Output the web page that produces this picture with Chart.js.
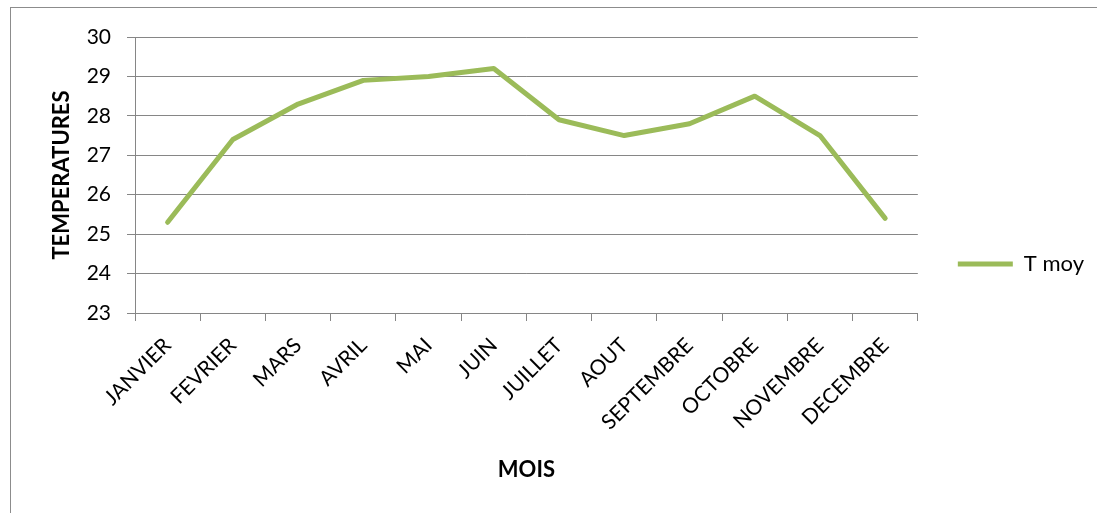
<!DOCTYPE html>
<html>
<head>
<meta charset="utf-8">
<script src="https://cdn.jsdelivr.net/npm/chart.js@4"></script>
<style>
    body { margin: 0; overflow: hidden; background: #fff; }
    .frame { position: absolute; left: 10px; top: 7px; width: 1200px; height: 600px; border: 1px solid #8c8c8c; }
    .wrap { position: absolute; left: 0; top: 0; width: 1097px; height: 513px; }
</style>
</head>
<body>
<div class="frame"></div>
<div class="wrap"><canvas id="chart"></canvas></div>
<script>
const months = ["JANVIER", "FEVRIER", "MARS", "AVRIL", "MAI", "JUIN", "JUILLET", "AOUT", "SEPTEMBRE", "OCTOBRE", "NOVEMBRE", "DECEMBRE"];
const tMoy = [25.3, 27.4, 28.3, 28.9, 29.0, 29.2, 27.9, 27.5, 27.8, 28.5, 27.5, 25.4];
const yMin = 23;
const yMax = 30;

const gridColor = "#868686";
const fontFamily = "Lato, 'Liberation Sans', sans-serif";

new Chart("chart", {
    type: "line",
    data: {
        labels: months,
        datasets: [
            {
                label: "T moy",
                data: tMoy,
                borderColor: "#9bbb59",
                backgroundColor: "#9bbb59",
                borderWidth: 5,
                borderCapStyle: "round",
                borderJoinStyle: "round",
                pointRadius: 0,
                pointHoverRadius: 0,
                tension: 0,
            },
        ],
    },
    options: {
        responsive: true,
        maintainAspectRatio: false,
        animation: false,
        layout: {
            padding: { top: 37, left: 0, right: 3, bottom: 22 },
        },
        scales: {
            x: {
                offset: true,
                grid: {
                    offset: true,
                    drawOnChartArea: false,
                    tickLength: 8,
                    color: gridColor,
                },
                border: { color: gridColor, width: 1 },
                ticks: {
                    minRotation: 45,
                    maxRotation: 45,
                    padding: 12,
                    color: "#000",
                    font: { family: fontFamily, size: 21 },
                },
                title: {
                    display: true,
                    text: "MOIS",
                    color: "#000",
                    font: { family: fontFamily, size: 22, weight: "bold" },
                    padding: { top: 0, bottom: 8 },
                },
                afterFit: (scale) => {
                    scale.height = 178;
                },
            },
            y: {
                min: yMin,
                max: yMax,
                ticks: {
                    stepSize: 1,
                    padding: 16,
                    color: "#000",
                    font: { family: fontFamily, size: 21 },
                },
                grid: {
                    color: gridColor,
                    tickLength: 8,
                },
                border: { color: gridColor, width: 1 },
                title: {
                    display: true,
                    text: "TEMPERATURES",
                    color: "#000",
                    font: { family: fontFamily, size: 22, weight: "bold" },
                    padding: { top: 49, bottom: 0 },
                },
                afterFit: (scale) => {
                    scale.width = 135;
                },
            },
        },
        plugins: {
            legend: {
                position: "right",
                labels: {
                    usePointStyle: true,
                    pointStyle: "line",
                    pointStyleWidth: 55,
                    padding: 40,
                    color: "#000",
                    font: { family: fontFamily, size: 22 },
                },
            },
            tooltip: { enabled: false },
        },
    },
});
</script>
</body>
</html>
